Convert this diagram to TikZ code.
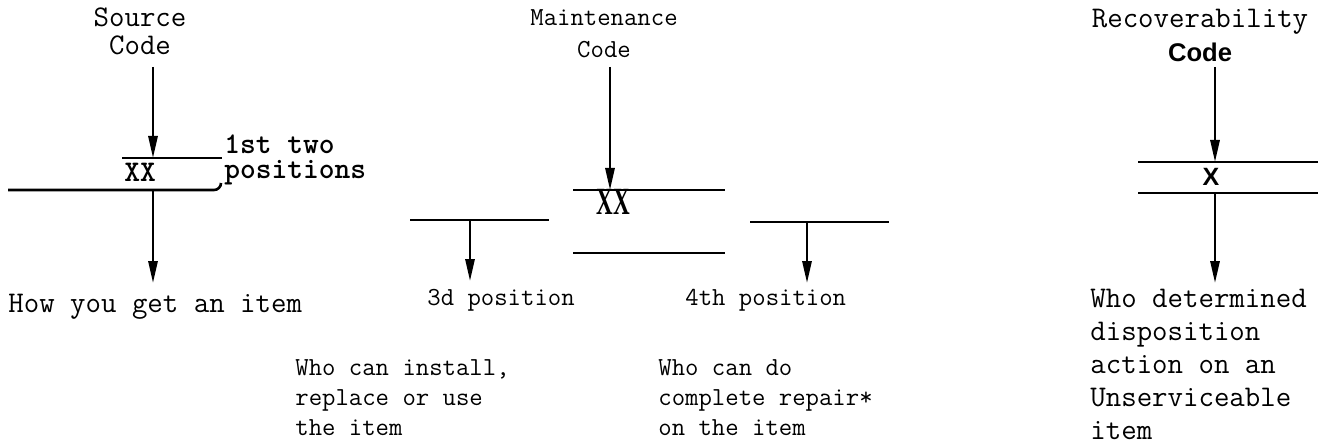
\documentclass[tikz,border=0pt]{standalone}
\usepackage{fontspec}
\newfontfamily\codesans{Liberation Sans}
\newfontfamily\codeserif{Liberation Serif}
\usetikzlibrary{arrows.meta,positioning}
\tikzset{
  rule/.style={line width=1.3pt, draw=black},
  flow/.style={-{Triangle[length=11pt,width=4.6pt]}, line width=1.2pt, draw=black},
  bigtxt/.style={font=\ttfamily\fontsize{15}{14}\selectfont, inner sep=0pt},
  smalltxt/.style={font=\ttfamily\fontsize{13}{15}\selectfont, inner sep=0pt},
  headtxt/.style={align=center, anchor=base},
  notetxt/.style={align=left, anchor=base west},
  codemark/.style={font=\ttfamily\bfseries\fontsize{15}{12.5}\selectfont, inner sep=0pt}
}

\begin{document}
\begin{tikzpicture}[x=0.5pt,y=-0.5pt]
  \useasboundingbox (0,0) rectangle (1320,443);

  % source code
  \node[bigtxt,headtxt] (srcH) at (140,55) {Source\\Code};
  \coordinate (srcA) at (153,67);
  \coordinate (srcT) at (153,158);
  \coordinate (srcB) at (153,190);
  \coordinate (srcE) at (153,283);
  \draw[rule] (122,158) -- (222,158);
  \draw[rule] (8,190) -- (214,190) to[out=0,in=-90] (221,183);
  \node[codemark,anchor=base] (srcX) at (140,182) {XX};
  \node[codemark,notetxt] (srcPos) at (224,178) {1st two\\positions};
  \node[bigtxt,notetxt] (srcOut) at (8,312) {How you get an item};
  \draw[flow] (srcA) -- (srcT);
  \draw[flow] (srcB) -- (srcE);

  % maintenance code
  \node[smalltxt,headtxt] (mntH) at (604,58) {Maintenance\\[1pt]Code};
  \coordinate (mntA) at (610,67);
  \coordinate (mntT) at (610,190);
  \draw[rule] (573,190) -- (725,190);
  \draw[rule] (573,253) -- (725,253);
  \node[codemark,anchor=base,font=\codeserif\bfseries\fontsize{11}{12}\selectfont] (mntX) at (613,214) {\scalebox{1.05}[1.75]{XX}};
  \draw[flow] (mntA) -- (mntT);

  \coordinate (thrT) at (470,220);
  \coordinate (thrE) at (470,281);
  \coordinate (frtT) at (807,222);
  \coordinate (frtE) at (807,283);
  \draw[rule] (410,220) -- (549,220);
  \draw[rule] (750,222) -- (889,222);
  \node[smalltxt,notetxt] (thrOut) at (427,305) {3d position};
  \node[smalltxt,notetxt] (frtOut) at (685,305) {4th position};
  \draw[flow] (thrT) -- (thrE);
  \draw[flow] (frtT) -- (frtE);

  \node[smalltxt,notetxt] (thrNote) at (295,435) {Who can install,\\replace or use\\the item};
  \node[smalltxt,notetxt] (frtNote) at (658,435) {Who can do\\complete repair*\\on the item};

  % recoverability code
  \node[bigtxt,headtxt] (rcvH) at (1200,62) {Recoverability\\[3pt]{\codesans\bfseries\fontsize{12.8}{14}\selectfont Code}};
  \coordinate (rcvA) at (1215,67);
  \coordinate (rcvT) at (1215,162);
  \coordinate (rcvB) at (1215,193);
  \coordinate (rcvE) at (1215,283);
  \draw[rule] (1138,162) -- (1318,162);
  \draw[rule] (1138,193) -- (1318,193);
  \node[codemark,anchor=base,font=\codesans\bfseries\fontsize{12.5}{12}\selectfont] (rcvX) at (1211,185) {X};
  \node[bigtxt,notetxt,font=\ttfamily\fontsize{15}{16.5}\selectfont] (rcvOut) at (1090,439) {Who determined\\disposition\\action on an\\Unserviceable\\item};
  \draw[flow] (rcvA) -- (rcvT);
  \draw[flow] (rcvB) -- (rcvE);
\end{tikzpicture}
\end{document}
